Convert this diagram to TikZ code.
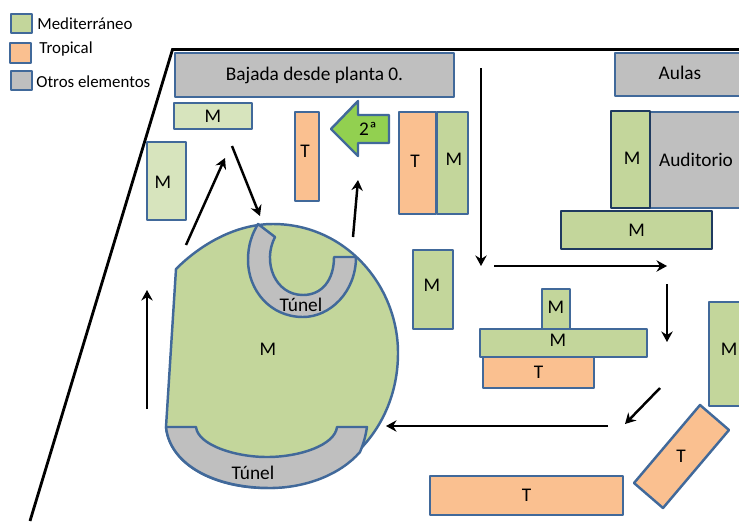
\documentclass[tikz,border=0pt]{standalone}
\usepackage{fontspec}
\usetikzlibrary{arrows.meta}
\setmainfont{Carlito}
\definecolor{verde}{HTML}{C3D69B}
\definecolor{verdeclaro}{HTML}{D7E4BD}
\definecolor{naranja}{HTML}{FAC090}
\definecolor{gris}{HTML}{BFBFBF}
\definecolor{verdeflecha}{HTML}{92D050}
\definecolor{borde}{HTML}{41699A}
\definecolor{bordeosc}{HTML}{1F3A5F}
\tikzset{
 zona/.style={draw=borde,line width=1.4pt,line join=round},
 med/.style={zona,fill=verde},
 medclaro/.style={zona,fill=verdeclaro},
 trop/.style={zona,fill=naranja},
 otros/.style={zona,fill=gris},
 ruta/.style={-{Stealth[length=6pt,width=6.5pt,inset=2pt]},black,line width=1.4pt},
 rotulo/.style={font=\fontsize{11}{13}\selectfont,inner sep=0pt},
 leyenda/.style={font=\fontsize{9.6}{12}\selectfont,inner sep=0pt,anchor=west},
}
\begin{document}
\begin{tikzpicture}[x=0.02cm,y=-0.02cm]
\useasboundingbox (0,0) rectangle (739,521);
% leyenda
\draw[med] (11,14) rectangle (32,33);
\node[leyenda] (leymed) at (37,24) {Mediterráneo};
\draw[trop] (10,43) rectangle (31,63);
\node[leyenda] (leytrop) at (39,49) {Tropical};
\draw[otros] (11,71) rectangle (32,90);
\node[leyenda] (leyotros) at (36,82) {Otros elementos};
% pared
\draw[line width=1.6pt] (30,521) -- (172.5,49.5) -- (739,49.5);
% parte alta
\draw[otros] (175,53) rectangle (454,97) node[pos=.5,rotulo] (bajada) {Bajada desde planta 0.};
\draw[medclaro] (174,103) rectangle (252,129) node[pos=.5,rotulo] (m1) {M};
\draw[medclaro] (147,142) rectangle (186,220);
\node[rotulo] (m2) at (163,182) {M};
\draw[trop] (295,112) rectangle (319,201);
\node[rotulo] (t1) at (305,151) {T};
\draw[zona,fill=verdeflecha] (331,129) -- (358,101) -- (358,115) -- (389,115) -- (389,143) -- (358,143) -- (358,156) -- cycle;
\node[rotulo] (planta) at (368,129) {2ª};
\draw[trop] (399,112) rectangle (436,214);
\node[rotulo] (t2) at (415,161) {T};
\draw[med] (437,112) rectangle (468,214);
\node[rotulo] (m3) at (454,159) {M};
\draw[otros] (615,53) rectangle (745,96);
\node[rotulo] (aulas) at (680,73) {Aulas};
\draw[otros] (650,112) rectangle (745,208);
\node[rotulo] (auditorio) at (696,160) {Auditorio};
\draw[med,draw=bordeosc] (611,111) rectangle (650,208);
\node[rotulo] (m4) at (632,158) {M};
\draw[med,draw=bordeosc] (561,211) rectangle (712,249) node[pos=.5,rotulo] (m5) {M};
% parte central
\draw[med] (413,250) rectangle (453,329);
\node[rotulo] (m6) at (432,285) {M};
\draw[med] (542,289) rectangle (570,329);
\node[rotulo] (m7) at (556,307) {M};
\draw[med] (480,329) rectangle (647,357);
\node[rotulo] (m8) at (558,340) {M};
\draw[trop] (483,357) rectangle (594,388) node[pos=.5,rotulo] (t3) {T};
\draw[med] (709,302) rectangle (749,406);
\node[rotulo] (m9) at (729,349) {M};
\draw[trop] (700,405) -- (729,430) -- (663,508) -- (634,483) -- cycle;
\node[rotulo] (t4) at (681,456) {T};
\draw[trop] (430,476) rectangle (623,515) node[pos=.5,rotulo] (t5) {T};
% jardin
\draw[med] (176,269) .. controls (200,245) and (235,224) .. (273,224)
 .. controls (345,224) and (398,285) .. (398,353)
 .. controls (398,430) and (340,488) .. (267,488)
 .. controls (215,488) and (170,465) .. (166,427) -- cycle;
\node[rotulo] (m10) at (268,349) {M};
\draw[otros] (258,224) -- (275,237) .. controls (262,262) and (275,295) .. (303,295)
 .. controls (322,295) and (334,280) .. (334,257) -- (356,257)
 .. controls (356,292) and (330,317) .. (303,317)
 .. controls (270,317) and (248,290) .. (248,260)
 .. controls (248,245) and (252,234) .. (258,224) -- cycle;
\node[rotulo] (tunel1) at (301,305) {Túnel};
\draw[otros] (166,427) -- (196,427) .. controls (198,445) and (235,457) .. (267,457)
 .. controls (300,457) and (335,445) .. (337,427) -- (367,427)
 .. controls (365,440) and (362,447) .. (360,452)
 .. controls (340,475) and (305,488) .. (270,488)
 .. controls (215,488) and (170,465) .. (166,427) -- cycle;
\node[rotulo] (tunel2) at (253,473) {Túnel};
% recorrido
\draw[ruta] (147,409) -- (147,290);
\draw[ruta] (186,245) -- (225,158);
\draw[ruta] (232,146) -- (260,216);
\draw[ruta] (353,237) -- (358,180);
\draw[ruta] (481,68) -- (481,266);
\draw[ruta] (494,266) -- (667,266);
\draw[ruta] (667,284) -- (667,342);
\draw[ruta] (660,388) -- (625,424);
\draw[ruta] (608,426) -- (386,426);
\end{tikzpicture}
\end{document}
